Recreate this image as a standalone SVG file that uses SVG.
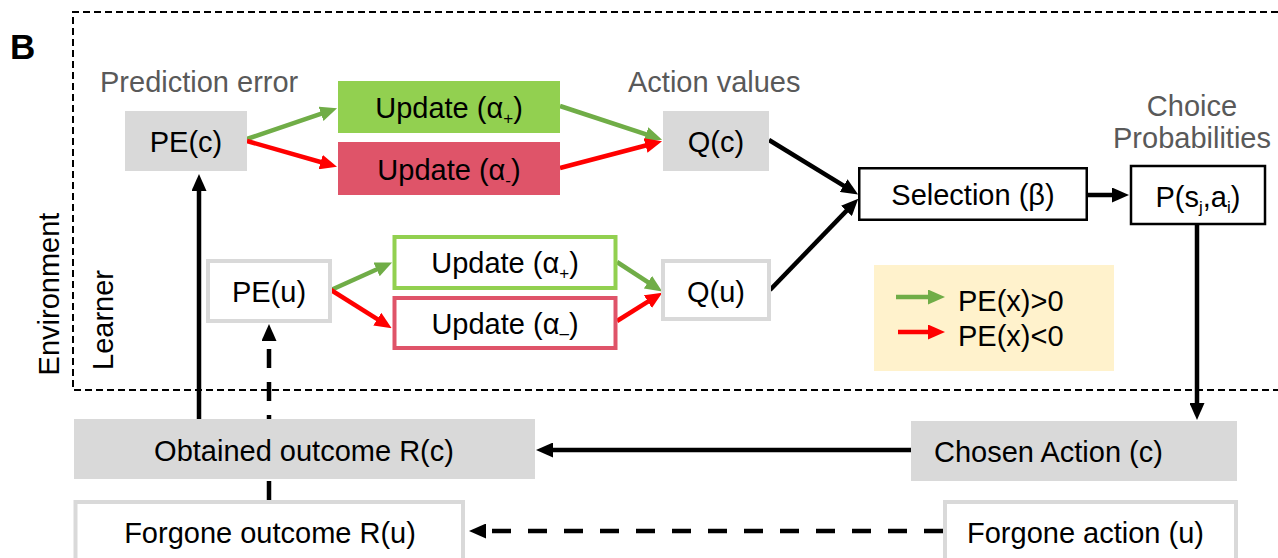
<svg xmlns="http://www.w3.org/2000/svg" width="1278" height="558" viewBox="0 0 1278 558">
<defs>
<style>
text{font-family:"Liberation Sans",Arial,sans-serif;font-size:29px;fill:#000}
.hdr{fill:#595959}
.c{text-anchor:middle}
.gray{fill:#d9d9d9}
.wbox{fill:#fff;stroke:#d9d9d9;stroke-width:4}
.bbox{fill:#fff;stroke:#000;stroke-width:2.5}
.blk{fill:none;stroke:#000;stroke-width:4.5}
.grn{fill:none;stroke:#70ad47;stroke-width:4.5}
.red{fill:none;stroke:#ff0000;stroke-width:4.5}
.dash{stroke-dasharray:19 17}
.sub{font-size:17px}
</style>
<marker id="ab" markerUnits="userSpaceOnUse" markerWidth="17" markerHeight="15" viewBox="0 0 17 15" refX="9" refY="7.5" orient="auto"><path d="M0,0L17,7.5L0,15z" fill="#000"/></marker>
<marker id="ag" markerUnits="userSpaceOnUse" markerWidth="17" markerHeight="15" viewBox="0 0 17 15" refX="9" refY="7.5" orient="auto"><path d="M0,0L17,7.5L0,15z" fill="#70ad47"/></marker>
<marker id="ar" markerUnits="userSpaceOnUse" markerWidth="17" markerHeight="15" viewBox="0 0 17 15" refX="9" refY="7.5" orient="auto"><path d="M0,0L17,7.5L0,15z" fill="#ff0000"/></marker>
</defs>
<rect width="1278" height="558" fill="#fff"/>

<g id="frame">
<path d="M1278,12H73V390H1278" fill="none" stroke="#000" stroke-width="2" stroke-dasharray="7 4"/>
<text x="10" y="59" style="font-weight:bold;font-size:35px">B</text>
<text class="c" transform="translate(59,294) rotate(-90)">Environment</text>
<text class="c" transform="translate(113,320) rotate(-90)">Learner</text>
<text class="hdr" x="100" y="92">Prediction error</text>
<text class="hdr" x="628" y="92">Action values</text>
<text class="hdr c" x="1192" y="116">Choice</text>
<text class="hdr c" x="1192" y="148">Probabilities</text>
</g>

<g id="connectors">
<path class="grn" d="M247,139L329.5,110.9" marker-end="url(#ag)"/>
<path class="red" d="M247,141L329.3,164.5" marker-end="url(#ar)"/>
<path class="grn" d="M560,106L654.5,137.2" marker-end="url(#ag)"/>
<path class="red" d="M560,168L654.3,143.3" marker-end="url(#ar)"/>
<path class="blk" d="M769,140L851.3,190.3" marker-end="url(#ab)"/>
<path class="blk" d="M770,290L852.7,204.4" marker-end="url(#ab)"/>
<path class="blk" d="M1088,195H1121" marker-end="url(#ab)"/>
<path class="blk" d="M1197,224V412" marker-end="url(#ab)"/>
<path class="blk" d="M911,450H544" marker-end="url(#ab)"/>
<path class="blk" d="M199,419V182" marker-end="url(#ab)"/>
<path class="blk dash" d="M943,531H477" marker-end="url(#ab)"/>
<path class="blk" d="M269,500V332" stroke-dasharray="19 14" marker-end="url(#ab)"/>
<path class="grn" d="M331,290L384.8,265.7" marker-end="url(#ag)"/>
<path class="red" d="M331,290L384.9,323.9" marker-end="url(#ar)"/>
<path class="grn" d="M617,262L655.5,287.1" marker-end="url(#ag)"/>
<path class="red" d="M617,321L655.5,296.9" marker-end="url(#ar)"/>
</g>

<g id="pe_c"><rect class="gray" x="125" y="111" width="122" height="60"/><text class="c" x="186" y="152">PE(c)</text></g>
<g id="upd_pos_c"><rect x="338" y="81" width="222" height="52" fill="#92d050"/><text class="c" x="449" y="118">Update (α<tspan class="sub" dy="6">+</tspan><tspan dy="-6">)</tspan></text></g>
<g id="upd_neg_c"><rect x="338" y="142" width="222" height="53" fill="#df5469"/><text class="c" x="449" y="180">Update (α<tspan class="sub" dy="6">-</tspan><tspan dy="-6">)</tspan></text></g>
<g id="q_c"><rect class="gray" x="663" y="111" width="106" height="60"/><text class="c" x="716" y="152">Q(c)</text></g>
<g id="selection"><rect class="bbox" x="859.25" y="168.25" width="227.5" height="51.5"/><text class="c" x="973" y="205">Selection (β)</text></g>
<g id="p_sa"><rect class="bbox" x="1131" y="166" width="134" height="58"/><text class="c" x="1198" y="207">P(s<tspan class="sub" dy="6">j</tspan><tspan dy="-6">,a</tspan><tspan class="sub" dy="6">i</tspan><tspan dy="-6">)</tspan></text></g>
<g id="pe_u"><rect class="wbox" x="208" y="261" width="122" height="60"/><text class="c" x="269" y="302">PE(u)</text></g>
<g id="upd_pos_u"><rect x="394.5" y="237" width="221" height="51" fill="#fff" stroke="#92d050" stroke-width="4"/><text class="c" x="505" y="273">Update (α<tspan class="sub" dy="6">+</tspan><tspan dy="-6">)</tspan></text></g>
<g id="upd_neg_u"><rect x="394.5" y="298" width="221" height="50" fill="#fff" stroke="#df5469" stroke-width="4"/><text class="c" x="505" y="334">Update (α<tspan class="sub" dy="5">–</tspan><tspan dy="-5">)</tspan></text></g>
<g id="q_u"><rect class="wbox" x="663" y="261" width="106" height="58"/><text class="c" x="716" y="302">Q(u)</text></g>
<g id="legend">
<rect x="874" y="265" width="240" height="106" fill="#fff2cc"/>
<path class="grn" d="M896,297H937" marker-end="url(#ag)"/>
<path class="red" d="M898,332H937" marker-end="url(#ar)"/>
<text x="958" y="311">PE(x)&gt;0</text>
<text x="958" y="346">PE(x)&lt;0</text>
</g>
<g id="obtained"><rect class="gray" x="74" y="419" width="461" height="60"/><text class="c" x="304" y="461">Obtained outcome R(c)</text></g>
<g id="chosen"><rect class="gray" x="911" y="421" width="326" height="60"/><text x="934" y="462">Chosen Action (c)</text></g>
<g id="forgone_outcome"><rect class="wbox" x="75.5" y="502" width="387.5" height="60"/><text class="c" x="270" y="543">Forgone outcome R(u)</text></g>
<g id="forgone_action"><rect class="wbox" x="945" y="502" width="291" height="60"/><text x="967" y="543">Forgone action (u)</text></g>
</svg>
